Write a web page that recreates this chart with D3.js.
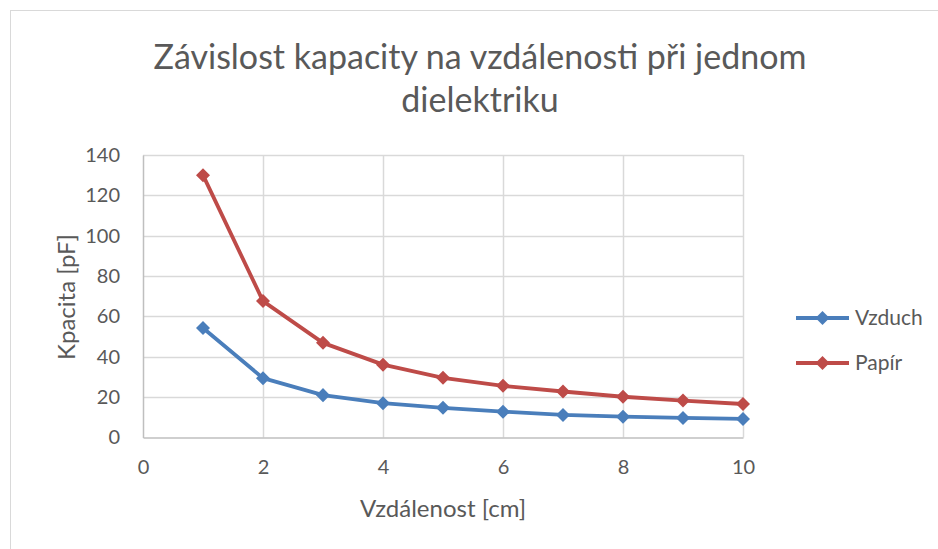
<!DOCTYPE html>
<html><head><meta charset="utf-8">
<script src="https://cdn.jsdelivr.net/npm/d3@7"></script>
<style>body{margin:0;background:#fff}svg{display:block}</style>
</head><body>
<svg id="c" width="938" height="549"></svg>
<script>
const distances = [1,2,3,4,5,6,7,8,9,10];
const vzduch = [54.3,29.4,21.0,17.0,14.7,12.8,11.2,10.3,9.7,9.2];
const papir  = [130.0,67.6,46.9,36.1,29.6,25.6,22.8,20.2,18.3,16.6];
const seriesNames = ["Vzduch","Papír"];
const seriesColors = ["#4a7ebb","#be4b48"];
const xTicks = [0,2,4,6,8,10];
const yTicks = [0,20,40,60,80,100,120,140];
const title = ["Závislost kapacity na vzdálenosti při jednom","dielektriku"];

const FONT = "Lato, 'Open Sans', sans-serif";
const svg = d3.select("#c");
svg.append("rect").attr("x",10.5).attr("y",10.5).attr("width",940).attr("height",560)
  .attr("fill","#fff").attr("stroke","#d9d9d9");

const x = d3.scaleLinear().domain([0,10]).range([143,743]);
const y = d3.scaleLinear().domain([0,140]).range([437.5,155]);

// gridlines
svg.append("g").selectAll("line").data(yTicks.filter(d=>d>0)).join("line")
  .attr("x1",x(0)).attr("x2",x(10)).attr("y1",d=>Math.round(y(d))+0.5).attr("y2",d=>Math.round(y(d))+0.5)
  .attr("stroke","#d9d9d9").attr("stroke-width",1.5);
svg.append("g").selectAll("line").data(xTicks.filter(d=>d>0)).join("line")
  .attr("y1",y(0)).attr("y2",y(140)).attr("x1",d=>Math.round(x(d))+0.5).attr("x2",d=>Math.round(x(d))+0.5)
  .attr("stroke","#d9d9d9").attr("stroke-width",1.5);

// axes
const xAxis = svg.append("g").attr("transform",`translate(0,${y(0)})`)
  .call(d3.axisBottom(x).tickValues(xTicks).tickSize(0).tickPadding(22));
const yAxis = svg.append("g").attr("transform",`translate(${x(0)},0)`)
  .call(d3.axisLeft(y).tickValues(yTicks).tickSize(0).tickPadding(23));
[xAxis,yAxis].forEach(a=>{
  a.select(".domain").attr("stroke","#bfbfbf").attr("stroke-width",1.5);
  a.selectAll("text").attr("fill","#595959").style("font-family",FONT).style("font-size","20px");
});

// series
const data = [vzduch,papir];
const line = d3.line().x((d,i)=>x(distances[i])).y(d=>y(d));
const diamond = d3.symbol().type(d3.symbolDiamond2).size(125);
data.forEach((s,k)=>{
  svg.append("path").datum(s).attr("d",line).attr("fill","none")
    .attr("stroke",seriesColors[k]).attr("stroke-width",3.8).attr("stroke-linejoin","round");
  svg.append("g").selectAll("path").data(s).join("path")
    .attr("transform",(d,i)=>`translate(${x(distances[i])},${y(d)})`)
    .attr("d",diamond).attr("fill",seriesColors[k]);
});

// legend
seriesNames.forEach((n,k)=>{
  const ly = 318 + k*45;
  const g = svg.append("g");
  g.append("line").attr("x1",796).attr("x2",849).attr("y1",ly).attr("y2",ly)
    .attr("stroke",seriesColors[k]).attr("stroke-width",3.8);
  g.append("path").attr("transform",`translate(822.5,${ly})`).attr("d",diamond).attr("fill",seriesColors[k]);
  g.append("text").attr("x",855).attr("y",ly).attr("dy","0.35em").text(n)
    .attr("fill","#595959").style("font-family",FONT).style("font-size","21px");
});

// title
title.forEach((t,i)=>{
  svg.append("text").attr("x",480).attr("y",69+i*43).attr("text-anchor","middle").text(t)
    .attr("fill","#595959").style("font-family",FONT).style("font-size","34px");
});

// axis titles
svg.append("text").attr("x",443).attr("y",517).attr("text-anchor","middle").text("Vzdálenost [cm]")
  .attr("fill","#595959").style("font-family",FONT).style("font-size","24px");
svg.append("text").attr("transform","translate(75,297) rotate(-90)").attr("text-anchor","middle").text("Kpacita [pF]")
  .attr("fill","#595959").style("font-family",FONT).style("font-size","24px");
</script>
</body></html>
